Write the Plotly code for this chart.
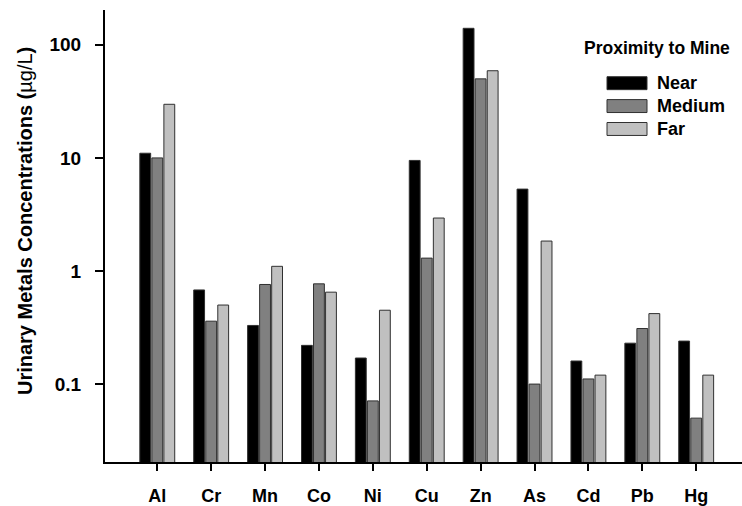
import plotly.graph_objects as go

metals = ["Al", "Cr", "Mn", "Co", "Ni", "Cu", "Zn", "As", "Cd", "Pb", "Hg"]
near = [11.0, 0.68, 0.33, 0.22, 0.17, 9.5, 140, 5.3, 0.16, 0.23, 0.24]
medium = [10.0, 0.36, 0.76, 0.77, 0.071, 1.3, 50, 0.10, 0.111, 0.31, 0.05]
far = [29.8, 0.50, 1.10, 0.65, 0.45, 2.94, 59, 1.84, 0.12, 0.42, 0.12]
series_names = ["Near", "Medium", "Far"]
series_colors = ["#000000", "#808080", "#c0c0c0"]
y_tick_vals = [0.1, 1, 10, 100]
y_tick_text = ["0.1", "1", "10", "100"]

W, H = 742, 506
ML, MR, MT, MB = 105, 0, 10, 42
PW, PH = W - ML - MR, H - MT - MB

FONT = "Liberation Sans, Arial, sans-serif"

fig = go.Figure()
for name, vals, col in zip(series_names, [near, medium, far], series_colors):
    fig.add_trace(go.Bar(
        x=metals, y=vals, name=name,
        marker=dict(color=col, line=dict(color="#303030", width=1)),
        showlegend=False,
    ))

def px_x(p):
    return (p - ML) / PW

def px_y(p):
    return (H - MB - p) / PH

# custom legend (wide swatches as in reference)
sw_x0, sw_x1 = 607, 647
rows = [(77, 90), (100, 113), (123, 136)]
for (y0, y1), name, col in zip(rows, series_names, series_colors):
    fig.add_shape(type="rect", xref="paper", yref="paper",
                  x0=px_x(sw_x0), x1=px_x(sw_x1), y0=px_y(y1), y1=px_y(y0),
                  fillcolor=col, line=dict(color="#303030", width=1))
    fig.add_annotation(xref="paper", yref="paper", x=px_x(655), y=px_y((y0 + y1) / 2),
                       text="<b>%s</b>" % name, showarrow=False, xanchor="left", yanchor="middle",
                       font=dict(family=FONT, size=18, color="#000"))
fig.add_annotation(xref="paper", yref="paper", x=px_x(657), y=px_y(48),
                   text="<b>Proximity to Mine</b>", showarrow=False, xanchor="center", yanchor="middle",
                   font=dict(family=FONT, size=17.5, color="#000"))

# y-axis title (placed as in the reference, slightly above plot centre)
fig.add_annotation(xref="paper", yref="paper", x=px_x(25), y=px_y(222),
                   text="<b>Urinary Metals Concentrations (</b>µg/L<b>)</b>",
                   textangle=-90, showarrow=False, xanchor="center", yanchor="middle",
                   font=dict(family=FONT, size=20, color="#000"))

fig.update_layout(
    width=W, height=H,
    margin=dict(l=ML, r=MR, t=MT, b=MB),
    paper_bgcolor="white", plot_bgcolor="white",
    barmode="group", bargap=0.33, bargroupgap=0.1,
    font=dict(family=FONT, size=16, color="#000"),
    showlegend=False,
)
fig.update_xaxes(
    range=[-0.97, 10.85],
    showline=True, linecolor="#000", linewidth=2,
    ticks="outside", ticklen=7, tickwidth=2, tickcolor="#000",
    tickfont=dict(family=FONT, size=18, color="#000"),
    ticklabelstandoff=9,
    showgrid=False, zeroline=False,
    tickprefix="<b>", ticksuffix="</b>",
)
fig.update_yaxes(
    type="log", range=[-1.689, 2.308],
    showline=True, linecolor="#000", linewidth=2,
    ticks="outside", ticklen=8, tickwidth=2, tickcolor="#000",
    tickvals=y_tick_vals, ticktext=["<b>%s</b>" % t for t in y_tick_text],
    tickfont=dict(family=FONT, size=19, color="#000"),
    ticklabelstandoff=10,
    showgrid=False, zeroline=False,
)

fig.write_html("out.html", config={"displayModeBar": False},
               post_script="document.body.style.margin='0';")
